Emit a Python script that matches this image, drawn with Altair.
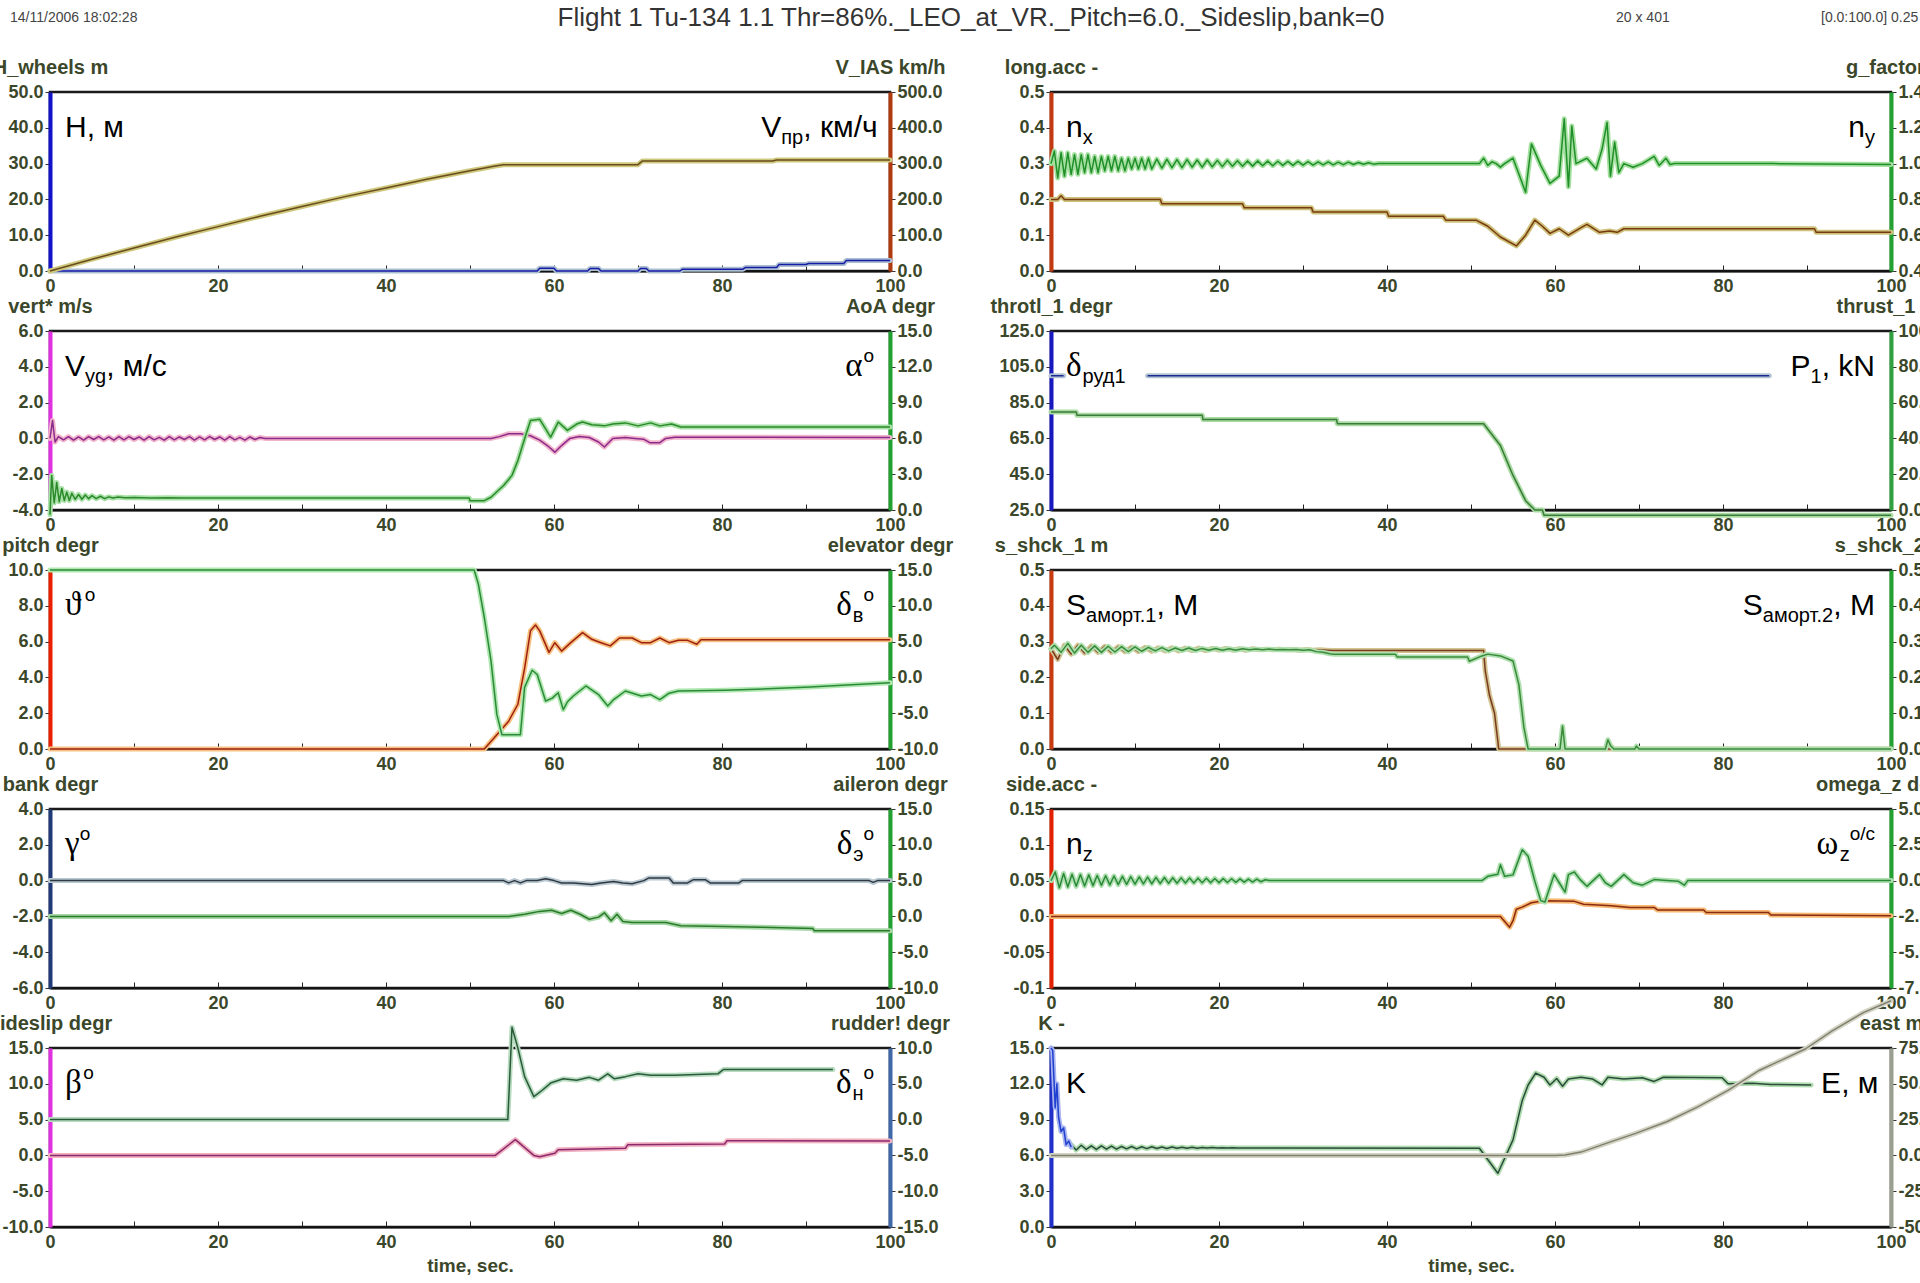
import altair as alt
import pandas as pd

W, H = 840, 179
HSP, VSP = 161, 60

# ---------------- data ----------------
h_t = [0, 58, 58.3, 60, 60.3, 64, 64.3, 65.3, 65.6, 70, 70.3, 71, 71.3, 75, 75.3, 82.5, 82.8, 86.5, 86.8, 90, 90.3, 94.5, 94.8, 100]
h_v = [0, 0, 0.8, 0.8, 0, 0, 0.7, 0.7, 0, 0, 0.7, 0.7, 0, 0, 0.5, 0.5, 1.0, 1.0, 1.8, 1.8, 2.1, 2.1, 2.9, 2.9]
vias_t = [0, 5, 10, 15, 20, 25, 30, 35, 40, 45, 50, 53, 54, 70, 70.5, 86, 86.5, 100]
vias_v = [0, 33, 64, 95, 124, 153, 180, 207, 232, 257, 280, 293, 297, 297, 307, 307, 310, 310]

nx_t = [0, 0.8, 1.2, 1.6, 13, 13.2, 22.8, 23, 31, 31.2, 40, 40.2, 46.7, 47, 50.6, 52, 53.5, 55.4, 56.5, 57.6,
        58.5, 59.4, 60.5, 61.6, 63, 63.8, 65.3, 66.5, 67.4, 68.2, 90.9, 91.1, 100]
nx_v = [0.2, 0.2, 0.21, 0.2, 0.2, 0.188, 0.188, 0.177, 0.177, 0.165, 0.165, 0.153, 0.153, 0.142, 0.142, 0.125, 0.095, 0.07, 0.1, 0.142,
        0.125, 0.105, 0.118, 0.1, 0.12, 0.13, 0.108, 0.112, 0.108, 0.118, 0.118, 0.108, 0.108]
ny_osc1 = [1.0, 1.07, 0.92, 1.06, 0.93, 1.06, 0.94, 1.05, 0.94, 1.05, 0.95, 1.05, 0.95, 1.04, 0.95, 1.04, 0.96, 1.04, 0.96, 1.04,
           0.96, 1.03, 0.96, 1.03, 0.97, 1.03, 0.97, 1.03, 0.97, 1.03, 0.97]
ny_osc2 = [1.025, 0.975, 1.024, 0.977, 1.022, 0.978, 1.022, 0.98, 1.02, 0.98, 1.02, 0.982, 1.018, 0.983, 1.018, 0.985, 1.016, 0.985,
           1.015, 0.986, 1.015, 0.988, 1.014, 0.988, 1.013, 0.99, 1.012, 0.99, 1.012, 0.991, 1.011, 0.992, 1.01, 0.993, 1.01, 0.993,
           1.008, 0.994, 1.008, 0.995, 1.006, 0.996, 1.005, 0.997, 1.0]
ny_tail_t = [39.5, 51, 51.5, 52, 52.5, 53, 53.5, 54, 55, 56.5, 57.2, 58.3, 59.4, 60.5, 61.1, 61.6, 62, 62.5, 63.8, 64.9,
             65.6, 66.2, 66.6, 67.1, 67.6, 68.2, 69.3, 70.4, 71.8, 72.4, 73.2, 73.7, 74.2, 75, 86, 100]
ny_tail_v = [1.0, 1.0, 1.03, 0.99, 1.01, 1.0, 0.98, 1.0, 1.03, 0.84, 1.11, 0.99, 0.89, 0.93, 1.25, 0.87, 1.21, 1.0, 1.03, 0.97,
             1.08, 1.23, 0.93, 1.12, 0.95, 1.0, 0.98, 1.0, 1.04, 0.99, 1.03, 0.995, 1.0, 1.0, 1.0, 0.995]

vert_head_t = [0, 0.3, 0.6]
vert_head_v = [0, 1.0, -0.2]
vert_osc = [0.1, -0.08, 0.1, -0.1, 0.08, -0.1, 0.1, -0.06, 0.1, -0.08, 0.08, -0.1, 0.1, -0.08, 0.1, -0.06, 0.08, -0.1, 0.1, -0.08,
            0.06, -0.1, 0.1, -0.08, 0.08, -0.06, 0.1, -0.1, 0.08, -0.08, 0.1, -0.06, 0.08, -0.1, 0.1, -0.08, 0.06, -0.1, 0.08, -0.06,
            0.05, 0.0]
vert_tail_t = [26.2, 52.5, 53.5, 54.6, 56, 57.2, 58.3, 59.2, 60.1, 60.9, 61.9, 63, 64.2, 65.3, 66, 67, 68.5, 69.6, 70.7, 71.4,
               72.6, 73.3, 74.4, 100]
vert_tail_v = [0, 0, 0.1, 0.26, 0.26, 0.15, -0.1, -0.4, -0.77, -0.4, 0.0, 0.1, 0.05, -0.2, -0.48, 0.0, 0.05, 0.0, -0.05, -0.24,
               -0.24, 0.0, 0.07, 0.05]
aoa_t = [0, 0.2, 0.5, 0.8, 1.1, 1.4, 1.7, 2.0, 2.3, 2.6, 3.0, 3.4, 3.8, 4.2, 4.6, 5, 5.5, 6, 6.5, 7, 7.5, 8, 9, 10, 12,
         14, 16, 18, 49.9, 50, 51.7, 52.5, 54, 55, 55.7, 56.5, 57.2, 58.3, 59, 59.6, 60.5, 61.6, 62.7, 63.4, 64.5, 66, 67,
         68.5, 70, 71.5, 72.6, 74, 75.1, 100]
aoa_v = [-0.4, 2.9, 0.6, 2.3, 0.7, 1.8, 0.8, 1.5, 0.8, 1.4, 0.9, 1.3, 0.9, 1.25, 0.95, 1.2, 0.95, 1.15, 0.95, 1.1, 1.0, 1.08,
         1.02, 1.05, 1.0, 1.03, 1.0, 1.0, 1.0, 0.78, 0.78, 1.07, 2.05, 2.9, 4.15, 5.97, 7.5, 7.6, 6.8, 6.1, 7.37, 6.67, 7.2,
         7.37, 7.15, 7.05, 7.2, 7.3, 7.05, 7.3, 7.05, 7.2, 6.95, 6.95]

thr_t = [0, 1.5, 11.5, 85.5]
thr_v = [100, 100, 100, 100]
thr_seg = [0, 0, 1, 1]
thrust_t = [0, 3, 3.1, 18, 18.1, 34, 34.1, 51.5, 53.5, 55, 56.5, 57.6, 58.5, 58.7, 100]
thrust_v = [54.8, 54.8, 52.9, 52.9, 50.5, 50.5, 48.2, 48.2, 36, 19.3, 5.2, 0, 0, -3, -3]

pitch_t = [0, 51.7, 53.2, 54.6, 55.7, 56.5, 57.2, 57.8, 58.3, 59.4, 60.1, 60.9, 62, 63.4, 64.5, 65.6, 66.7, 67.8, 69.3, 70.4,
           71.5, 72.6, 73.7, 74.8, 75.9, 77, 77.5, 100]
pitch_v = [0, 0, 0.8, 1.55, 2.5, 4.5, 6.6, 6.93, 6.6, 5.4, 5.94, 5.47, 5.94, 6.5, 6.13, 5.94, 5.76, 6.2, 6.2, 5.94,
           5.94, 6.2, 5.94, 6.07, 6.07, 5.85, 6.1, 6.1]
elev_t = [0, 50.5, 51, 51.7, 52.5, 53.2, 53.8, 56, 56.5, 57.4, 58, 59, 59.8, 60.5, 61.1, 61.6, 62.3, 63.8, 65.3, 66.4,
          67.1, 68.5, 70.4, 71.5, 72.6, 73.7, 74.8, 80.3, 85.4, 90.5, 96, 100]
elev_v = [15, 15, 13, 8.4, 2.3, -5.2, -8, -8, -1.4, 1.0, 0.4, -3.3, -2.9, -2.15, -4.5, -3.4, -2.6, -1.2, -2.4, -4,
          -3.1, -1.9, -2.6, -2.4, -3.1, -2.2, -1.9, -1.8, -1.6, -1.35, -1.0, -0.75]

s1_osc = [0.28, 0.25, 0.29, 0.265, 0.29, 0.268, 0.288, 0.27, 0.287, 0.27, 0.286, 0.272, 0.285, 0.272, 0.284, 0.273, 0.283, 0.274,
          0.283, 0.274, 0.282, 0.275, 0.282, 0.275, 0.281, 0.276, 0.281, 0.276, 0.28, 0.276, 0.28, 0.277, 0.279, 0.277, 0.279,
          0.277, 0.278, 0.276, 0.278, 0.276, 0.277, 0.276]
s1_tail_t = [33.5, 51.5, 51.7, 52.2, 52.8, 53.3, 100]
s1_tail_v = [0.275, 0.275, 0.218, 0.15, 0.1, 0, 0]
s2_osc = [0.29, 0.27, 0.295, 0.268, 0.29, 0.27, 0.288, 0.27, 0.287, 0.271, 0.286, 0.272, 0.285, 0.273, 0.284, 0.274, 0.283, 0.274,
          0.282, 0.275, 0.282, 0.275, 0.281, 0.276, 0.281, 0.276, 0.28, 0.276, 0.28, 0.277, 0.279, 0.277, 0.279, 0.277, 0.278,
          0.277, 0.278, 0.276, 0.277, 0.272, 0.27, 0.266]
s2_tail_t = [33.6, 41, 41.2, 49.6, 49.8, 51.3, 52, 53.5, 55, 55.7, 56.3, 56.8, 60.6, 60.9, 61.2, 61.5, 66, 66.3, 66.6, 67,
             69.5, 69.7, 70, 100]
s2_tail_v = [0.265, 0.265, 0.257, 0.257, 0.245, 0.26, 0.265, 0.26, 0.246, 0.18, 0.06, 0, 0, 0.064, 0, 0, 0, 0.026, 0.01, 0,
             0, 0.008, 0, 0]

bank_t = [0, 54, 54.6, 55.3, 56, 56.7, 58, 59, 60, 60.9, 62.3, 63.4, 64.5, 65.6, 67.1, 68.2, 69.3, 70.7, 71.3, 73.7,
          74.2, 75.9, 76.6, 78, 78.6, 82, 82.4, 97.5, 98, 98.5, 100]
bank_v = [0, 0, -0.13, 0, -0.13, 0, 0, 0.1, 0, -0.13, -0.13, -0.18, -0.22, -0.13, -0.05, -0.13, -0.18, 0, 0.15, 0.15,
          -0.13, -0.13, 0.05, 0.05, -0.13, -0.13, 0, 0, -0.1, 0, 0]
ail_t = [0, 54.6, 56.5, 58.3, 59.7, 60.9, 62, 63.1, 64.2, 65.3, 66, 66.8, 67.5, 68.2, 69.3, 73.3, 75.1, 80.2, 84.6, 90.8, 91, 100]
ail_v = [0, 0, 0.3, 0.7, 0.85, 0.4, 0.85, 0.3, -0.4, -0.1, 0.5, -0.6, 0.3, -0.7, -0.85, -0.85, -1.3, -1.4, -1.5, -1.7, -2.0, -2.0]

nz_t = [0, 53.5, 54.6, 55, 55.4, 56.1, 57.2, 58.7, 62.3, 63.4, 66.7, 68.9, 71.8, 72.2, 77.7, 78, 85.4, 85.7, 100]
nz_v = [0, 0, -0.015, -0.006, 0.01, 0.013, 0.019, 0.022, 0.021, 0.017, 0.015, 0.0125, 0.0125, 0.009, 0.009, 0.0055, 0.0055, 0.002, 0.001]
om_osc = [0.0, 0.6, -0.5, 0.5, -0.45, 0.45, -0.4, 0.42, -0.38, 0.4, -0.35, 0.36, -0.33, 0.34, -0.3, 0.32, -0.28, 0.3, -0.26, 0.28,
          -0.25, 0.26, -0.23, 0.24, -0.22, 0.23, -0.2, 0.22, -0.19, 0.2, -0.18, 0.19, -0.17, 0.18, -0.16, 0.17, -0.15, 0.16, -0.14,
          0.15, -0.14, 0.14, -0.13, 0.13, -0.12, 0.12, -0.11, 0.11, -0.1, 0.1, -0.08, 0.06, 0.0]
om_tail_t = [51.3, 52, 53.2, 53.5, 54, 55, 56.1, 56.8, 57.6, 58.3, 58.8, 59.9, 60.5, 61.2, 61.6, 62.3, 63, 63.8, 65.3, 66,
             66.7, 68.2, 69.3, 70.4, 71.8, 72.9, 74.7, 75.4, 75.8, 100]
om_tail_v = [0, 0.3, 0.45, 1.1, 0.3, 0.4, 2.15, 1.7, -0.05, -1.4, -1.5, 0.42, -0.15, -0.8, 0.42, 0.6, 0.07, -0.4, 0.42, -0.15,
             -0.4, 0.42, -0.15, -0.32, 0.07, 0.02, -0.05, -0.32, 0, 0]

slip_t = [0, 53, 55.4, 57.6, 58.3, 60.1, 60.5, 68.5, 68.8, 80.3, 80.6, 100]
slip_v = [0, 0, 2.2, 0, -0.2, 0.3, 0.8, 1.0, 1.5, 1.6, 2.05, 2.0]
rud_t = [0, 54.5, 55, 55.7, 56.5, 57.6, 58.6, 59.6, 61.1, 62.7, 64.2, 65.3, 66.4, 67.2, 68.5, 70, 71.5, 74.4, 79.5, 80.2, 93.2]
rud_v = [0, 0, 12.9, 10, 6, 3.2, 4.1, 5.1, 5.7, 5.5, 5.9, 5.5, 6.4, 5.7, 6.0, 6.4, 6.2, 6.2, 6.4, 7.0, 7.0]

kb_t = [0, 0.2, 0.5, 0.7, 0.9, 1.2, 1.5, 1.8, 2.1, 2.4]
kb_v = [15, 14.8, 10.0, 12.0, 9.2, 8.0, 8.3, 6.9, 7.2, 6.7]
k_osc = [6.9, 6.45, 6.85, 6.5, 6.8, 6.5, 6.8, 6.52, 6.78, 6.52, 6.75, 6.55, 6.75, 6.55, 6.72, 6.57, 6.72, 6.58, 6.7, 6.58,
         6.7, 6.6, 6.68, 6.6, 6.68, 6.6, 6.66, 6.62, 6.66, 6.62, 6.65, 6.62, 6.64, 6.62, 6.63, 6.62, 6.62]
k_tail_t = [24.5, 51, 53.2, 55, 56.1, 56.8, 57.7, 58.7, 59.4, 60.2, 60.9, 61.6, 63.1, 64.5, 65.6, 66.3, 68.2, 70.4, 71.8, 72.9,
            79.9, 80.6, 83.5, 85.7, 90.5]
k_tail_v = [6.62, 6.6, 4.5, 7.3, 10.6, 11.9, 12.9, 12.55, 11.9, 12.45, 11.8, 12.4, 12.55, 12.4, 11.9, 12.55, 12.4, 12.5, 12.2, 12.55,
            12.5, 12.0, 12.05, 11.95, 11.9]
e_t = [0, 60, 61.2, 63.1, 66.7, 69.6, 73.3, 77, 80.6, 84.3, 89.8, 93, 96.7, 100]
e_v = [0, 0, 0.3, 2.3, 9.6, 15.4, 23.5, 33.9, 45.4, 59.3, 74.3, 87, 99.7, 108]


def grid(start, step, vals):
    return [round(start + step * i, 3) for i in range(len(vals))]


ny_t = grid(0, 0.4, ny_osc1) + grid(12.6, 0.6, ny_osc2) + ny_tail_t
ny_v = ny_osc1 + ny_osc2 + ny_tail_v
vert_t = vert_head_t + grid(1.0, 0.6, vert_osc) + vert_tail_t
vert_v = vert_head_v + vert_osc + vert_tail_v
s1_t = grid(0, 0.8, s1_osc) + s1_tail_t
s1_v = s1_osc + s1_tail_v
s2_t = [0] + grid(0.4, 0.8, s2_osc) + s2_tail_t
s2_v = [0.28] + s2_osc + s2_tail_v
om_t = grid(0, 0.5, om_osc) + om_tail_t
om_v = om_osc + om_tail_v
k_t = grid(2.4, 0.6, k_osc) + k_tail_t
k_v = k_osc + k_tail_v

# ---------------- styling helpers ----------------
SANS = "Liberation Sans"
SERIF = "Liberation Serif"
LBL = "#3b472a"
XS = alt.Scale(domain=[0, 100], nice=False, zero=False)
ONE = pd.DataFrame({"k": [0]})

CW = {'H': .722, 'V': .667, 'P': .667, 'S': .667, 'K': .667, 'E': .667, 'М': .833, 'N': .722,
      'n': .556, 'x': .5, 'y': .5, 'z': .5, 'g': .556, 'o': .556, 'c': .5, 'k': .5,
      ',': .278, ' ': .278, '/': .278, '.': .278, '1': .556, '2': .556,
      'м': .573, 'п': .55, 'р': .556, 'к': .45, 'ч': .5, 'с': .5, 'у': .5, 'д': .58, 'а': .556, 'о': .556,
      'т': .45, 'в': .53, 'э': .51, 'н': .55, 'α': .55, 'δ': .5, 'γ': .45, 'β': .55, 'ω': .7, 'ϑ': .6}
KIND = {'n': (SANS, 30, 45), 's': (SANS, 20, 52), 'p': (SANS, 19, 31), 'g': (SERIF, 33, 45)}


def tw(text, size):
    return sum(CW.get(c, .55) for c in text) * size


def label_marks(pieces, x, right=False):
    total = sum(tw(t, KIND[k][1]) for t, k in pieces)
    cx = x - total if right else x
    out = []
    for t, k in pieces:
        font, size, base = KIND[k]
        out.append(alt.Chart(ONE).mark_text(text=t, font=font, fontSize=size, align="left",
                                            baseline="alphabetic", color="black")
                   .encode(x=alt.value(cx), y=alt.value(base)))
        cx += tw(t, size)
    return out


def yaxis(orient, title, vals, color, expr=None):
    le = expr or "replace(format(datum.value, '.1f'), '\u2212', '-')"
    return alt.Axis(orient=orient, title=title, values=vals, labelExpr=le, domainColor=color,
                    domainWidth=4, tickColor="#333", tickSize=5, grid=False, labelPadding=2,
                    titleAngle=0, titleX=0, titleY=-25, titleAlign="center", titleBaseline="middle")


def xaxis(bottom):
    # ticks point up into the plot, as in the reference
    return alt.Axis(values=list(range(0, 101, 10)),
                    labelExpr="datum.value % 20 == 0 ? datum.label : ''",
                    title="time, sec." if bottom else None, titlePadding=5, titleFontSize=19,
                    domainColor="#111", domainWidth=2, tickColor="#222",
                    tickSize=alt.ExprRef("-6"), labelPadding=12,
                    grid=False, labelFlush=False)


def lines(t, v, core, halo, ys, ya, xa, seg=None, hw=5, cw=1.5):
    df = pd.DataFrame({"t": t, "v": v})
    enc = dict(x=alt.X("t:Q", scale=XS, axis=xa), y=alt.Y("v:Q", scale=ys, axis=ya))
    if seg is not None:
        df["seg"] = seg
        enc["detail"] = alt.Detail("seg:N")
    b = alt.Chart(df)
    return [b.mark_line(color=halo, strokeWidth=hw, strokeJoin="round", strokeCap="round").encode(**enc),
            b.mark_line(color=core, strokeWidth=cw, strokeJoin="round").encode(**enc)]


def rng(lo, hi, step, n):
    return [round(lo + step * i, 4) for i in range(n)]


SIDE_EXPR = "datum.value == 0 ? '0.0' : replace(format(datum.value, '~g'), '\u2212', '-')"

panels = [
    # row 1
    dict(L=dict(t=h_t, v=h_v, core="#1a1aa8", halo="#a9bfd0", dom=[0, 50], vals=rng(0, 50, 10, 6), col="#1212c8", title="H_wheels m"),
         R=dict(t=vias_t, v=vias_v, core="#6b4a1c", halo="#cdc97e", dom=[0, 500], vals=rng(0, 500, 100, 6), col="#b03a10", title="V_IAS km/h"),
         lab=[("H, м", 'n')], rlab=[("V", 'n'), ("пр", 's'), (", км/ч", 'n')]),
    dict(L=dict(t=nx_t, v=nx_v, core="#7a3a10", halo="#cdc27c", dom=[0, 0.5], vals=rng(0, 0.5, 0.1, 6), col="#c23a10", title="long.acc -"),
         R=dict(t=ny_t, v=ny_v, core="#1f8f2a", halo="#a6e0a0", dom=[0.4, 1.4], vals=rng(0.4, 1.4, 0.2, 6), col="#22a030", title="g_factor -"),
         lab=[("n", 'n'), ("x", 's')], rlab=[("n", 'n'), ("y", 's')]),
    # row 2
    dict(L=dict(t=vert_t, v=vert_v, core="#8a2a8a", halo="#f2b4cc", dom=[-4, 6], vals=rng(-4, 6, 2, 6), col="#e030e0", title="vert* m/s"),
         R=dict(t=aoa_t, v=aoa_v, core="#2a8a2a", halo="#a8e0a8", dom=[0, 15], vals=rng(0, 15, 3, 6), col="#22a030", title="AoA degr"),
         lab=[("V", 'n'), ("yg", 's'), (", м/с", 'n')], rlab=[("α", 'g'), ("o", 'p')]),
    dict(L=dict(t=thr_t, v=thr_v, seg=thr_seg, core="#1a2a90", halo="#b3c2d2", dom=[25, 125], vals=rng(25, 125, 20, 6), col="#1818c0", title="throtl_1 degr"),
         R=dict(t=thrust_t, v=thrust_v, core="#3a7a3a", halo="#a8dca0", dom=[0, 100], vals=rng(0, 100, 20, 6), col="#30a040", title="thrust_1 kN"),
         lab=[("δ", 'g'), ("руд1", 's')], rlab=[("P", 'n'), ("1", 's'), (", kN", 'n')]),
    # row 3
    dict(L=dict(t=pitch_t, v=pitch_v, core="#a02010", halo="#f6c282", dom=[0, 10], vals=rng(0, 10, 2, 6), col="#e82000", title="pitch degr"),
         R=dict(t=elev_t, v=elev_v, core="#2a8a3a", halo="#b0e8b0", dom=[-10, 15], vals=rng(-10, 15, 5, 6), col="#22a030", title="elevator degr"),
         lab=[("ϑ", 'g'), ("o", 'p')], rlab=[("δ", 'g'), ("в", 's'), ("o", 'p')]),
    dict(L=dict(t=s1_t, v=s1_v, core="#7a3a20", halo="#d2c390", dom=[0, 0.5], vals=rng(0, 0.5, 0.1, 6), col="#c83a10", title="s_shck_1 m"),
         R=dict(t=s2_t, v=s2_v, core="#3a8a3a", halo="#b0e0b0", dom=[0, 0.5], vals=rng(0, 0.5, 0.1, 6), col="#22a030", title="s_shck_2 m"),
         lab=[("S", 'n'), ("аморт.1", 's'), (", М", 'n')], rlab=[("S", 'n'), ("аморт.2", 's'), (", М", 'n')]),
    # row 4
    dict(L=dict(t=bank_t, v=bank_v, core="#303840", halo="#b8c8d2", dom=[-6, 4], vals=rng(-6, 4, 2, 6), col="#203a78", title="bank degr"),
         R=dict(t=ail_t, v=ail_v, core="#2a7a2a", halo="#a8d8a8", dom=[-10, 15], vals=rng(-10, 15, 5, 6), col="#22a030", title="aileron degr"),
         lab=[("γ", 'g'), ("o", 'p')], rlab=[("δ", 'g'), ("э", 's'), ("o", 'p')]),
    dict(L=dict(t=nz_t, v=nz_v, core="#8a2a10", halo="#f6b872", dom=[-0.1, 0.15], vals=rng(-0.1, 0.05, 0.05, 6), col="#e02000", title="side.acc -", expr=SIDE_EXPR),
         R=dict(t=om_t, v=om_v, core="#2a8a3a", halo="#b0e0b0", dom=[-7.5, 5], vals=rng(-7.5, 2.5, 2.5, 6), col="#22a030", title="omega_z degr/s"),
         lab=[("n", 'n'), ("z", 's')], rlab=[("ω", 'g'), ("z", 's'), ("o/c", 'p')]),
    # row 5
    dict(L=dict(t=slip_t, v=slip_v, core="#8a2a6a", halo="#f2b2c4", dom=[-10, 15], vals=rng(-10, 15, 5, 6), col="#e030e0", title="sideslip degr"),
         R=dict(t=rud_t, v=rud_v, core="#2a5a3a", halo="#b8dcc0", dom=[-15, 10], vals=rng(-15, 10, 5, 6), col="#4068a8", title="rudder! degr"),
         lab=[("β", 'g'), ("o", 'p')], rlab=[("δ", 'g'), ("н", 's'), ("o", 'p')]),
    dict(L=dict(t=k_t, v=k_v, core="#2a4a3a", halo="#b0dcb0", dom=[0, 15], vals=rng(0, 15, 3, 6), col="#2030c8", title="K -"),
         R=dict(t=e_t, v=e_v, core="#808070", halo="#d4d4c4", dom=[-50, 75], vals=rng(-50, 75, 25, 6), col="#9aa090", title="east m"),
         lab=[("K", 'n')], rlab=[("E, м", 'n')]),
]


def build(i, p):
    bottom = i >= 8
    xa = xaxis(bottom)
    L, R = p["L"], p["R"]
    ysL = alt.Scale(domain=L["dom"], nice=False, zero=False)
    ysR = alt.Scale(domain=R["dom"], nice=False, zero=False)
    yaL = yaxis("left", L["title"], L["vals"], L["col"], L.get("expr"))
    yaR = yaxis("right", R["title"], R["vals"], R["col"], R.get("expr"))
    left_l = lines(L["t"], L["v"], L["core"], L["halo"], ysL, yaL, xa, L.get("seg"))
    if i == 9:
        left_l += lines(kb_t, kb_v, "#2040d0", "#a8b4f0", ysL, yaL, xa)
    right_l = lines(R["t"], R["v"], R["core"], R["halo"], ysR, yaR, xa, R.get("seg"))
    texts = label_marks(p["lab"], 15) + label_marks(p["rlab"], W - 16, right=True)
    if i == 0:
        texts += [
            alt.Chart(ONE).mark_text(text="Flight 1 Tu-134 1.1 Thr=86%._LEO_at_VR._Pitch=6.0._Sideslip,bank=0",
                                     font=SANS, fontSize=26, align="center", baseline="middle", color="#333")
            .encode(x=alt.value(921), y=alt.value(-74)),
            alt.Chart(ONE).mark_text(text="14/11/2006 18:02:28", font=SANS, fontSize=14, align="left",
                                     baseline="middle", color="#444").encode(x=alt.value(-40), y=alt.value(-74)),
            alt.Chart(ONE).mark_text(text="20 x 401", font=SANS, fontSize=14, align="left",
                                     baseline="middle", color="#444").encode(x=alt.value(1566), y=alt.value(-74)),
            alt.Chart(ONE).mark_text(text="[0.0:100.0] 0.25", font=SANS, fontSize=14, align="left",
                                     baseline="middle", color="#444").encode(x=alt.value(1771), y=alt.value(-74)),
        ]
    return alt.layer(alt.layer(*left_l), alt.layer(*right_l), *texts).resolve_scale(y="independent").properties(width=W, height=H)


charts = [build(i, p) for i, p in enumerate(panels)]

# plot area of the first panel sits at (50, 92); the page is 1920 x 1283 and
# anything beyond it is cut, as in the reference screenshot
chart = (alt.concat(*charts, columns=2, spacing={"row": VSP, "column": HSP}, bounds="flush")
         .properties(autosize=alt.AutoSizeParams(type="none"),
                     padding={"left": 50, "top": 92, "right": 1870, "bottom": 1191}, background="white")
         .configure_view(stroke="#1a1a1a", strokeWidth=2.5)
         .configure_axis(labelFont=SANS, labelFontSize=18, labelFontWeight="bold", labelColor=LBL,
                         titleFont=SANS, titleFontSize=20, titleFontWeight="bold", titleColor=LBL))

chart.save("out.html", embed_options={"renderer": "svg", "actions": False})
